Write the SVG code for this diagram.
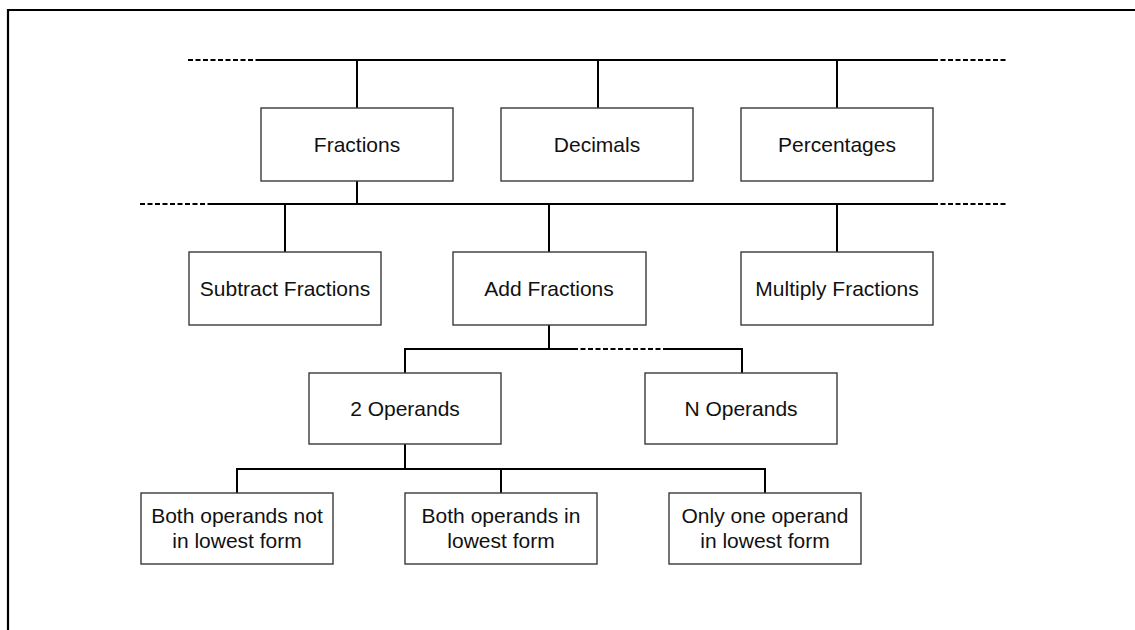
<svg xmlns="http://www.w3.org/2000/svg" width="1135" height="630" viewBox="0 0 1135 630">
  <style>
    .box rect { fill: #fff; stroke: #3a3a3a; stroke-width: 1.4; }
    .box text { font-family: "Liberation Sans", Arial, sans-serif; font-size: 21px; fill: #111; text-anchor: middle; }
    .link { fill: none; stroke: #000; stroke-width: 2; }
    .dash { fill: none; stroke: #000; stroke-width: 2; stroke-dasharray: 5 2.5; }
    .frame { fill: none; stroke: #000; stroke-width: 2.2; }
  </style>

  <!-- page frame (top and left edges) -->
  <path class="frame" d="M8 630 V10 H1135"/>

  <g id="connectors">
    <!-- top bus -->
    <path class="dash" d="M188 60 H260"/>
    <path class="link" d="M260 60 H933"/>
    <path class="dash" d="M933 60 H1006"/>
    <path class="link" d="M357 60 V108 M598 60 V108 M837 60 V108"/>
    <!-- Fractions to operations -->
    <path class="link" d="M357 181 V204"/>
    <path class="dash" d="M140 204 H212"/>
    <path class="link" d="M212 204 H933"/>
    <path class="dash" d="M933 204 H1006"/>
    <path class="link" d="M285 204 V252 M549 204 V252 M837 204 V252"/>
    <!-- Add Fractions to operand counts -->
    <path class="link" d="M549 325 V349 M405 373 V349 H573 M668 349 H742 V373"/>
    <path class="dash" d="M573 349 H668"/>
    <!-- 2 Operands to cases -->
    <path class="link" d="M405 444 V469 M237 493 V469 H765 V493 M501 469 V493"/>
  </g>

  <g id="fractions" class="box">
    <rect x="261" y="108" width="192" height="73"/>
    <text x="357" y="152">Fractions</text>
  </g>
  <g id="decimals" class="box">
    <rect x="501" y="108" width="192" height="73"/>
    <text x="597" y="152">Decimals</text>
  </g>
  <g id="percentages" class="box">
    <rect x="741" y="108" width="192" height="73"/>
    <text x="837" y="152">Percentages</text>
  </g>

  <g id="subtract-fractions" class="box">
    <rect x="189" y="252" width="192" height="73"/>
    <text x="285" y="296">Subtract Fractions</text>
  </g>
  <g id="add-fractions" class="box">
    <rect x="453" y="252" width="193" height="73"/>
    <text x="549" y="296">Add Fractions</text>
  </g>
  <g id="multiply-fractions" class="box">
    <rect x="741" y="252" width="192" height="73"/>
    <text x="837" y="296">Multiply Fractions</text>
  </g>

  <g id="two-operands" class="box">
    <rect x="309" y="373" width="192" height="71"/>
    <text x="405" y="416">2 Operands</text>
  </g>
  <g id="n-operands" class="box">
    <rect x="645" y="373" width="192" height="71"/>
    <text x="741" y="416">N Operands</text>
  </g>

  <g id="both-not-lowest" class="box">
    <rect x="141" y="493" width="192" height="71"/>
    <text x="237" y="523">Both operands not</text>
    <text x="237" y="548">in lowest form</text>
  </g>
  <g id="both-lowest" class="box">
    <rect x="405" y="493" width="192" height="71"/>
    <text x="501" y="523">Both operands in</text>
    <text x="501" y="548">lowest form</text>
  </g>
  <g id="one-lowest" class="box">
    <rect x="669" y="493" width="192" height="71"/>
    <text x="765" y="523">Only one operand</text>
    <text x="765" y="548">in lowest form</text>
  </g>
</svg>
